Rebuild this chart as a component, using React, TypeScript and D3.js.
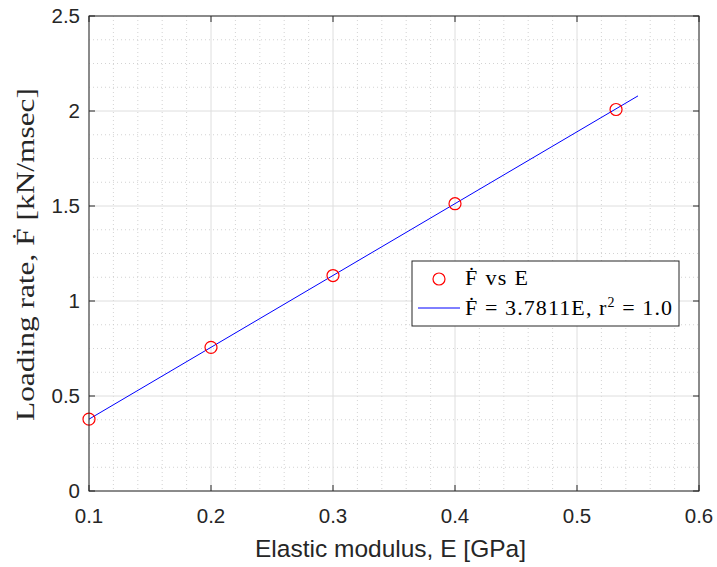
import React from "react";
import * as d3 from "d3";

const modulusE = [0.1, 0.2, 0.3, 0.4, 0.532];
const loadingRate = [0.378, 0.756, 1.134, 1.512, 2.008];
const fitSlope = 3.7811;
const fitRange = [0.1, 0.55];
const xTicks = [0.1, 0.2, 0.3, 0.4, 0.5, 0.6];
const yTicks = [0, 0.5, 1, 1.5, 2, 2.5];
const legendLabels = ["Ḟ vs E", "Ḟ = 3.7811E, r"];

const W = 717, H = 567;
const L = 89, R = 699, T = 16, B = 491;
const AX = "#262626";
const SERIF = "'Liberation Serif', 'DejaVu Serif', serif";
const SANS = "'Liberation Sans', Arial, sans-serif";

export default function App() {
  const x = d3.scaleLinear().domain([0.1, 0.6]).range([L, R]);
  const y = d3.scaleLinear().domain([0, 2.5]).range([B, T]);
  const xMinor = d3.range(0.1, 0.6001, 0.02).filter(v => !xTicks.some(t => Math.abs(t - v) < 1e-6));
  const yMinor = d3.range(0, 2.5001, 0.125).filter(v => !yTicks.some(t => Math.abs(t - v) < 1e-6));
  const fitLine = d3.line<number>().x(d => x(d)).y(d => y(fitSlope * d));
  const tl = 6;
  return (
    <svg width={W} height={H} style={{ position: "absolute", left: 0, top: 0, background: "#fff" }}>
      <rect x={0} y={0} width={W} height={H} fill="#fff" />
      <rect x={L} y={T} width={R - L} height={B - T} fill="#fff" />
      {xMinor.map((v, i) => (
        <line key={"xm" + i} x1={x(v)} x2={x(v)} y1={T} y2={B} stroke="#c8c8c8" strokeWidth={0.8} strokeDasharray="1,3" />
      ))}
      {yMinor.map((v, i) => (
        <line key={"ym" + i} x1={L} x2={R} y1={y(v)} y2={y(v)} stroke="#c8c8c8" strokeWidth={0.8} strokeDasharray="1,3" />
      ))}
      {xTicks.map((v, i) => (
        <line key={"xg" + i} x1={x(v)} x2={x(v)} y1={T} y2={B} stroke="#dedede" strokeWidth={1} />
      ))}
      {yTicks.map((v, i) => (
        <line key={"yg" + i} x1={L} x2={R} y1={y(v)} y2={y(v)} stroke="#dedede" strokeWidth={1} />
      ))}
      <path d={fitLine(fitRange) || ""} fill="none" stroke="#0000ff" strokeWidth={1} />
      {modulusE.map((e, i) => (
        <circle key={"p" + i} cx={x(e)} cy={y(loadingRate[i])} r={6} fill="none" stroke="#ff0000" strokeWidth={1.2} />
      ))}
      <rect x={L} y={T} width={R - L} height={B - T} fill="none" stroke={AX} strokeWidth={1} />
      {xTicks.map((v, i) => (
        <g key={"xt" + i}>
          <line x1={x(v)} x2={x(v)} y1={B} y2={B - tl} stroke={AX} />
          <line x1={x(v)} x2={x(v)} y1={T} y2={T + tl} stroke={AX} />
          <text x={x(v)} y={523} textAnchor="middle" fontFamily={SANS} fontSize={20.5} fill={AX}>{d3.format("")(v)}</text>
        </g>
      ))}
      {yTicks.map((v, i) => (
        <g key={"yt" + i}>
          <line x1={L} x2={L + tl} y1={y(v)} y2={y(v)} stroke={AX} />
          <line x1={R} x2={R - tl} y1={y(v)} y2={y(v)} stroke={AX} />
          <text x={80} y={y(v) + 7} textAnchor="end" fontFamily={SANS} fontSize={20.5} fill={AX}>{d3.format("")(v)}</text>
        </g>
      ))}
      <text x={390.5} y={557} textAnchor="middle" fontFamily={SANS} fontSize={24.5} fill={AX}>Elastic modulus, E [GPa]</text>
      <text transform="translate(34,254.5) rotate(-90)" textAnchor="middle" fontFamily={SERIF} fontSize={25} fill={AX}
        textLength={333} lengthAdjust="spacingAndGlyphs">Loading rate, Ḟ [kN/msec]</text>
      <g>
        <rect x={412} y={261} width={267} height={65} fill="#fff" stroke={AX} strokeWidth={1} />
        <circle cx={439} cy={279} r={6} fill="none" stroke="#ff0000" strokeWidth={1.2} />
        <line x1={418} x2={460} y1={308} y2={308} stroke="#0000ff" strokeWidth={1} />
        <text x={465} y={285} fontFamily={SERIF} fontSize={22} fill="#000" textLength={63} lengthAdjust="spacing">{legendLabels[0]}</text>
        <text x={465} y={315} fontFamily={SERIF} fontSize={22} fill="#000" textLength={207} lengthAdjust="spacing">
          {legendLabels[1]}
          <tspan dy={-8} fontSize={14}>2</tspan>
          <tspan dy={8}> = 1.0</tspan>
        </text>
      </g>
    </svg>
  );
}
